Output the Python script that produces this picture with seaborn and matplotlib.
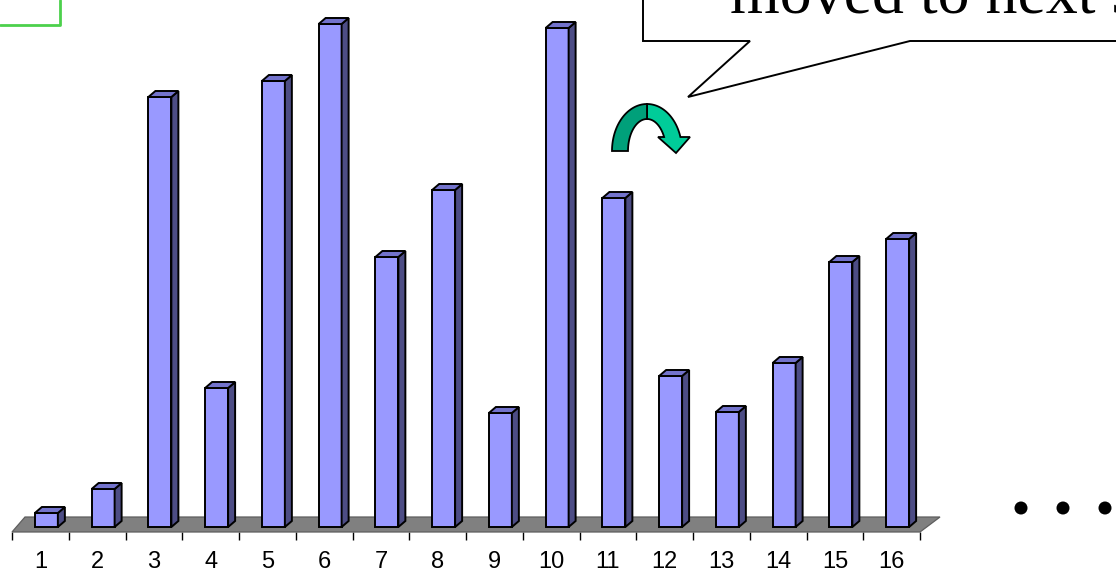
import numpy as np
import matplotlib
matplotlib.use("Agg")
import matplotlib.pyplot as plt
from matplotlib.patches import Polygon, Circle
from matplotlib.transforms import Affine2D
from matplotlib.ticker import FixedLocator
import seaborn as sns
import pandas as pd

# ---- data -------------------------------------------------------------
categories = [str(i) for i in range(1, 17)]
values = [1.4, 3.8, 43.0, 13.9, 44.6, 50.3, 27.0, 33.7,
          11.4, 49.9, 32.9, 15.1, 11.5, 16.4, 26.5, 28.8]
callout_text = "moved to next slide"

# ---- style ------------------------------------------------------------
sns.set_style("white")
plt.rcParams["font.family"] = ["Liberation Sans", "DejaVu Sans"]

W, H, DPI = 1116, 574, 100
fig = plt.figure(figsize=(W / DPI, H / DPI), dpi=DPI)
# pixel coordinates measured from the top-left corner
PX = Affine2D().scale(1, -1).translate(0, H)

ax_left, ax_right, ax_base, ax_top = 12, 920, 532, 0
ax = fig.add_axes([ax_left / W, (H - ax_base) / H,
                   (ax_right - ax_left) / W, (ax_base - ax_top) / H])

EDGE_LW = 1.4
df = pd.DataFrame({"cat": categories, "val": values})
sns.barplot(data=df, x="cat", y="val", color="#9999ff", saturation=1,
            width=0.405, edgecolor="black", linewidth=EDGE_LW, ax=ax, zorder=3)

ax.set_xlim(-0.5, 15.5)
ax.set_ylim(0, 53.2)

# pixel -> data unit conversion for the pseudo-3D offsets
ux = (ax_right - ax_left) / 16.0       # px per category
uy = (ax_base - ax_top) / 53.2         # px per value unit
plane_dx, plane_dy = 6 / ux, 5 / uy    # bars sit a little behind the front edge
bar_dx, bar_dy = 7 / ux, 6 / uy        # bar depth

# floor
floor = Polygon([(-0.5, 0), (15.5, 0), (15.5 + 20 / ux, 15 / uy),
                 (-0.5 + 13 / ux, 15 / uy)], closed=True,
                facecolor="#808080", edgecolor="#5e5e5e", lw=0.9,
                clip_on=False, zorder=1)
ax.add_patch(floor)

for p in ax.patches:
    if p is floor:
        continue
    p.set_x(p.get_x() + plane_dx)
    p.set_y(p.get_y() + plane_dy)
    p.set_clip_on(False)
    x0, y0 = p.get_x(), p.get_y()
    x1, y1 = x0 + p.get_width(), y0 + p.get_height()
    side = Polygon([(x1, y0), (x1 + bar_dx, y0 + bar_dy),
                    (x1 + bar_dx, y1 + bar_dy), (x1, y1)], closed=True,
                   facecolor="#4d4d85", edgecolor="black", lw=EDGE_LW,
                   joinstyle="miter", clip_on=False, zorder=3)
    top = Polygon([(x0, y1), (x1, y1), (x1 + bar_dx, y1 + bar_dy),
                   (x0 + bar_dx, y1 + bar_dy)], closed=True,
                  facecolor="#7373cc", edgecolor="black", lw=EDGE_LW,
                  joinstyle="miter", clip_on=False, zorder=3)
    ax.add_patch(side)
    ax.add_patch(top)

# axis cosmetics
for s in ax.spines.values():
    s.set_visible(False)
ax.set_xlabel("")
ax.set_ylabel("")
ax.set_yticks([])
ax.xaxis.set_minor_locator(FixedLocator(np.arange(-0.5, 16, 1.0)))
ax.tick_params(axis="x", which="minor", length=6, width=1.0, color="black",
               bottom=True)
ax.tick_params(axis="x", which="major", length=0, pad=14, labelsize=17,
               labelcolor="black")
ax.patch.set_alpha(0)

# callout balloon
balloon = Polygon([(643, -10), (643, 41), (750, 41), (688, 97), (910, 41),
                   (1130, 41), (1130, -10)], closed=True,
                  facecolor="white", edgecolor="black", lw=1.4,
                  transform=PX, zorder=5)
fig.add_artist(balloon)
fig.text(730 / W, (H - 13) / H, callout_text, ha="left", va="baseline",
         fontsize=46, family=["Liberation Serif", "DejaVu Serif"],
         color="black", zorder=6)

# green frame corner in the top-left
fig.add_artist(plt.Line2D([0, 60, 60], [25, 25, 0], color="#4cd04c", lw=2.0,
                          transform=PX, zorder=5))

# curved green arrow
cx, cy = 647, 151
ro_x, ro_y, ri_x, ri_y = 35, 47, 19, 32
t_out_end = np.arcsin(14 / ro_y)
t_in_end = np.arcsin(14 / ri_y)
t_left = np.linspace(np.pi, np.pi / 2, 40)
left_half = ([(cx + ro_x * np.cos(t), cy - ro_y * np.sin(t)) for t in t_left] +
             [(cx + ri_x * np.cos(t), cy - ri_y * np.sin(t)) for t in t_left[::-1]])
t_ro = np.linspace(np.pi / 2, t_out_end, 40)
t_ri = np.linspace(t_in_end, np.pi / 2, 40)
right_half = ([(cx + ro_x * np.cos(t), cy - ro_y * np.sin(t)) for t in t_ro] +
              [(690, 137), (676, 153), (658, 137)] +
              [(cx + ri_x * np.cos(t), cy - ri_y * np.sin(t)) for t in t_ri])
fig.add_artist(Polygon(right_half, closed=True, facecolor="#00cc99",
                       edgecolor="black", lw=1.3, transform=PX, zorder=5))
fig.add_artist(Polygon(left_half, closed=True, facecolor="#00a07a",
                       edgecolor="black", lw=1.3, transform=PX, zorder=5))

# continuation dots
for x in (1021, 1063, 1105):
    fig.add_artist(Circle((x, 508), 6.5, facecolor="black", edgecolor="none",
                          transform=PX, zorder=5))

fig.savefig("out.png", dpi=DPI)
